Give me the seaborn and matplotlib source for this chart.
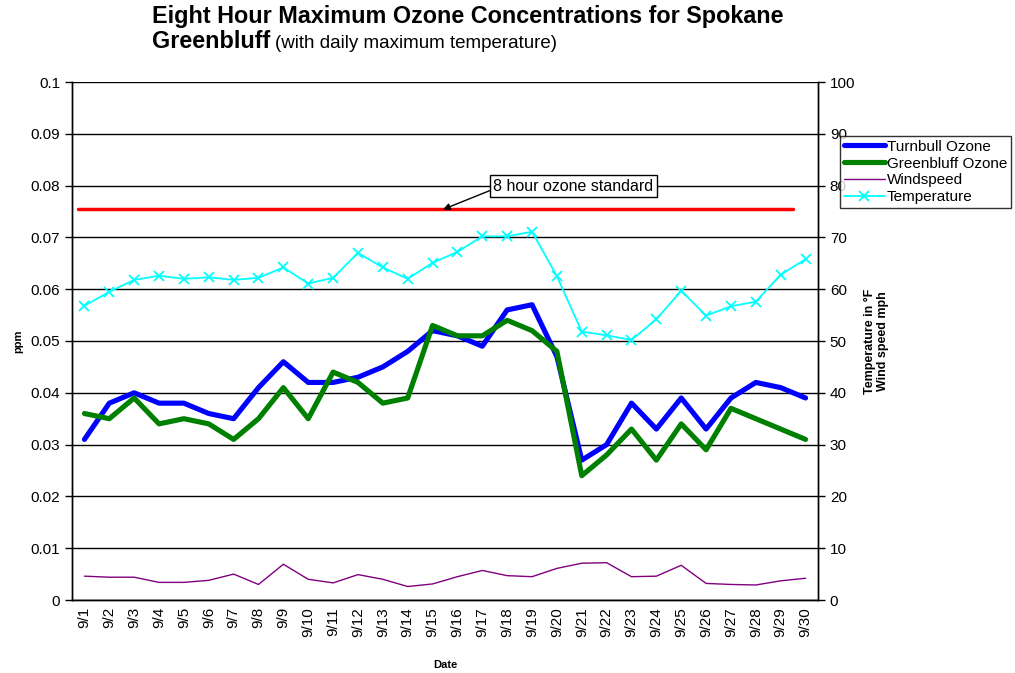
import numpy as np
import pandas as pd
import matplotlib
matplotlib.use("Agg")
import matplotlib.pyplot as plt
import seaborn as sns

dates = [f"9/{d}" for d in range(1, 31)]
turnbull = [0.031, 0.038, 0.040, 0.038, 0.038, 0.036, 0.035, 0.041, 0.046, 0.042,
            0.042, 0.043, 0.045, 0.048, 0.052, 0.051, 0.049, 0.056, 0.057, 0.047,
            0.027, 0.030, 0.038, 0.033, 0.039, 0.033, 0.039, 0.042, 0.041, 0.039]
greenbluff = [0.036, 0.035, 0.039, 0.034, 0.035, 0.034, 0.031, 0.035, 0.041, 0.035,
              0.044, 0.042, 0.038, 0.039, 0.053, 0.051, 0.051, 0.054, 0.052, 0.048,
              0.024, 0.028, 0.033, 0.027, 0.034, 0.029, 0.037, 0.035, 0.033, 0.031]
windspeed = [4.6, 4.4, 4.4, 3.4, 3.4, 3.8, 5.0, 3.0, 6.9, 4.0,
             3.3, 4.9, 4.0, 2.6, 3.1, 4.5, 5.7, 4.7, 4.5, 6.1,
             7.1, 7.2, 4.5, 4.6, 6.7, 3.2, 3.0, 2.9, 3.7, 4.2]
temperature = [56.8, 59.5, 61.8, 62.6, 62.0, 62.3, 61.8, 62.2, 64.2, 61.1,
               62.2, 67.0, 64.2, 62.0, 65.1, 67.2, 70.2, 70.2, 71.1, 62.5,
               51.8, 51.1, 50.2, 54.2, 59.7, 54.9, 56.7, 57.6, 62.8, 65.8]
ozone_standard = 0.0754
left_ticks = [0, 0.01, 0.02, 0.03, 0.04, 0.05, 0.06, 0.07, 0.08, 0.09, 0.1]
left_labels = ["0", "0.01", "0.02", "0.03", "0.04", "0.05", "0.06", "0.07", "0.08", "0.09", "0.1"]
right_ticks = [0, 10, 20, 30, 40, 50, 60, 70, 80, 90, 100]

df = pd.DataFrame({"idx": np.arange(len(dates)), "date": dates, "turnbull": turnbull,
                   "greenbluff": greenbluff, "windspeed": windspeed,
                   "temperature": temperature})

sns.set_style("white")
plt.rcParams['font.family'] = ['Liberation Sans', 'DejaVu Sans']
plt.rcParams['text.color'] = 'black'
plt.rcParams['axes.labelcolor'] = 'black'
plt.rcParams['xtick.color'] = 'black'
plt.rcParams['ytick.color'] = 'black'

fig = plt.figure(figsize=(10.15, 6.73), dpi=100)
ax = fig.add_axes([72/1015, 1-600/673, (818-72)/1015, (600-82)/673])
ax2 = ax.twinx()

sns.lineplot(data=df, x="idx", y="turnbull", ax=ax, color="#0000FF", lw=3.7,
             label="Turnbull Ozone", legend=False)
sns.lineplot(data=df, x="idx", y="greenbluff", ax=ax, color="#008000", lw=3.7,
             label="Greenbluff Ozone", legend=False)
ax.axhline(ozone_standard, xmin=0.0085, xmax=0.966, color="#FF0000", lw=2.5, zorder=3)

sns.lineplot(data=df, x="idx", y="windspeed", ax=ax2, color="#800080", lw=1,
             label="Windspeed", legend=False)
sns.lineplot(data=df, x="idx", y="temperature", ax=ax2, color="#00FFFF", lw=1.3,
             marker="x", markersize=7, markeredgewidth=1.3, markeredgecolor="#00FFFF",
             label="Temperature", legend=False)

ax.set_ylim(0, 0.1)
ax2.set_ylim(0, 100)
ax.set_xlim(-0.5, len(dates) - 0.5)
ax.set_yticks(left_ticks)
ax.set_yticklabels(left_labels, fontsize=11)
ax2.set_yticks(right_ticks)
ax2.set_yticklabels([str(t) for t in right_ticks], fontsize=11)
ax.set_xticks(np.arange(len(dates)))
ax.set_xticklabels(dates, rotation=90, fontsize=11)
ax.set_xticks(np.arange(len(dates) + 1) - 0.5, minor=True)
ax.tick_params(axis="x", which="major", length=0, pad=5)
ax.tick_params(axis="x", which="minor", length=5, width=1, color="black", direction="out")
ax.tick_params(axis="y", length=5, width=1, color="black", direction="out", left=True)
ax2.tick_params(axis="y", length=5, width=1, color="black", direction="out", right=True)

ax.grid(axis="y", color="black", lw=1)
ax.set_axisbelow(True)
for a in (ax, ax2):
    for s in a.spines.values():
        s.set_color("black")
        s.set_linewidth(1)
    a.spines["top"].set_visible(False)
ax.set_ylabel("ppm", fontsize=8, fontweight="bold", labelpad=5)
ax.set_xlabel("Date", fontsize=8, fontweight="bold", labelpad=17)
ax2.set_ylabel("Temperature in °F\nWind speed mph", fontsize=9, fontweight="bold", labelpad=6)

ax.annotate("8 hour ozone standard", xy=(14.42, ozone_standard), xytext=(16.45, 0.0799),
            fontsize=11.5, va="center", ha="left",
            bbox=dict(boxstyle="square,pad=0.22", fc="white", ec="black", lw=1),
            arrowprops=dict(arrowstyle="-|>", color="black", lw=1, shrinkA=0, shrinkB=0,
                            mutation_scale=10, relpos=(0, 0.3)),
            zorder=6)

h1, l1 = ax.get_legend_handles_labels()
h2, l2 = ax2.get_legend_handles_labels()
leg = fig.legend(h1 + h2, l1 + l2, loc="upper left", bbox_to_anchor=(840/1015, 1-136/673),
                 fontsize=11, frameon=True, fancybox=False, edgecolor="black",
                 borderpad=0.25, labelspacing=0.18, handlelength=2.7, handletextpad=0.1,
                 borderaxespad=0)
leg.get_frame().set_linewidth(1)

t1 = fig.text(152/1015, 1-23/673, "Eight Hour Maximum Ozone Concentrations for Spokane",
              fontsize=16.8, fontweight="bold", va="baseline", ha="left")
t2 = fig.text(152/1015, 1-48/673, "Greenbluff", fontsize=16.8, fontweight="bold",
              va="baseline", ha="left")
fig.canvas.draw()
bb = t2.get_window_extent()
fig.text(bb.x1 / fig.bbox.width + 5/1015, 1-48/673, "(with daily maximum temperature)",
         fontsize=13.5, va="baseline", ha="left")

fig.savefig("out.png", dpi=100, facecolor="white")
